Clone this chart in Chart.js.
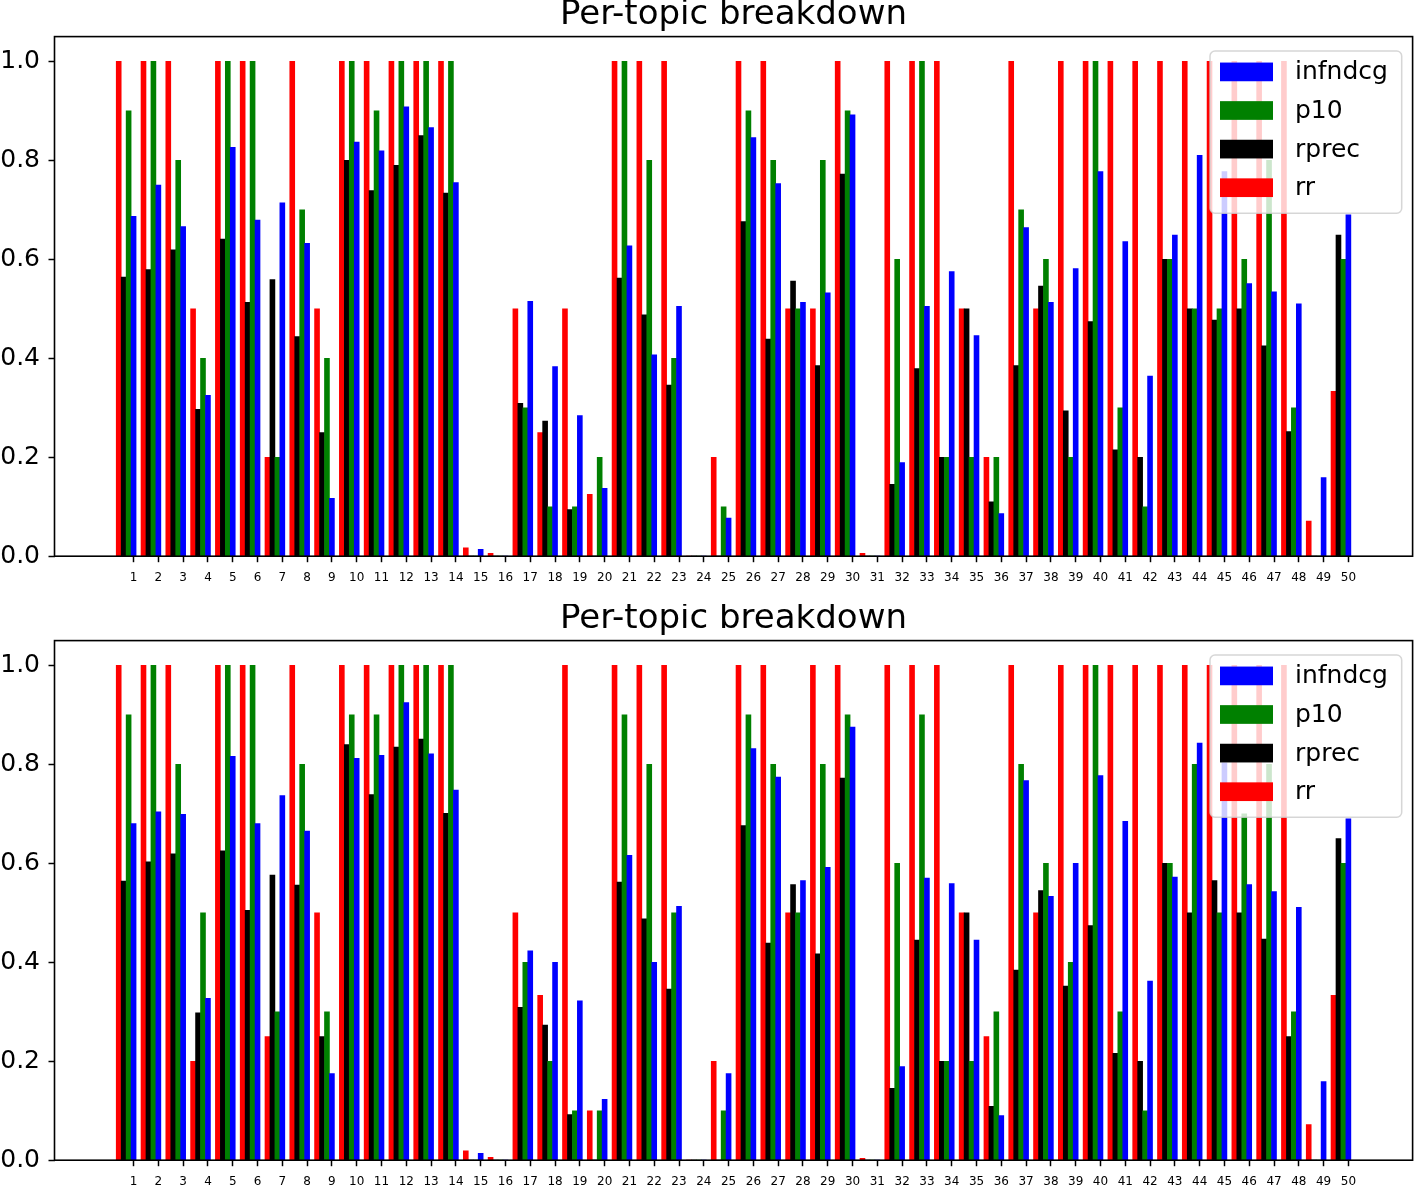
<!DOCTYPE html>
<html>
<head>
<meta charset="utf-8">
<script src="https://cdn.jsdelivr.net/npm/chart.js@4.4.1/dist/chart.umd.min.js"></script>
<style>
    html, body { margin: 0; padding: 0; background: #fff; overflow: hidden; }
    #wrap { position: relative; width: 1416px; height: 1186px; }
    canvas { position: absolute; left: 0; }
    #chart-top { top: 0; }
    #chart-bottom { top: 604px; }
</style>
</head>
<body>
<div id="wrap">
    <canvas id="chart-top" width="1416" height="604"></canvas>
    <canvas id="chart-bottom" width="1416" height="604"></canvas>
</div>
<script>
const topics = [1, 2, 3, 4, 5, 6, 7, 8, 9, 10, 11, 12, 13, 14, 15, 16, 17, 18, 19, 20,
    21, 22, 23, 24, 25, 26, 27, 28, 29, 30, 31, 32, 33, 34, 35, 36, 37, 38, 39, 40,
    41, 42, 43, 44, 45, 46, 47, 48, 49, 50];
const yTicks = [0, 0.2, 0.4, 0.6, 0.8, 1.0];
const yTickLabels = ["0.0", "0.2", "0.4", "0.6", "0.8", "1.0"];
const seriesNames = ["infndcg", "p10", "rprec", "rr"];

// upper panel
const infndcgTop = [0.687, 0.750, 0.666, 0.325, 0.826, 0.679, 0.714, 0.632, 0.117, 0.837,
    0.819, 0.908, 0.866, 0.755, 0.014, 0, 0.515, 0.383, 0.284, 0.137,
    0.627, 0.407, 0.505, 0, 0.077, 0.846, 0.753, 0.513, 0.532, 0.892,
    0, 0.189, 0.505, 0.575, 0.446, 0.086, 0.664, 0.513, 0.581, 0.777,
    0.636, 0.364, 0.649, 0.810, 0.777, 0.551, 0.534, 0.510, 0.159, 0.690];
const p10Top = [0.9, 1.0, 0.8, 0.4, 1.0, 1.0, 0.2, 0.7, 0.4, 1.0,
    0.9, 1.0, 1.0, 1.0, 0, 0, 0.3, 0.1, 0.1, 0.2,
    1.0, 0.8, 0.4, 0, 0.1, 0.9, 0.8, 0.5, 0.8, 0.9,
    0, 0.6, 1.0, 0.2, 0.2, 0.2, 0.7, 0.6, 0.2, 1.0,
    0.3, 0.1, 0.6, 0.5, 0.5, 0.6, 0.8, 0.3, 0, 0.6];
const rprecTop = [0.564, 0.579, 0.619, 0.297, 0.641, 0.513, 0.559, 0.444, 0.25, 0.80,
    0.739, 0.790, 0.850, 0.734, 0, 0, 0.309, 0.273, 0.094, 0,
    0.562, 0.488, 0.346, 0, 0, 0.676, 0.439, 0.556, 0.385, 0.772,
    0, 0.145, 0.379, 0.2, 0.5, 0.110, 0.385, 0.546, 0.294, 0.474,
    0.215, 0.2, 0.6, 0.5, 0.477, 0.5, 0.425, 0.252, 0, 0.649];
const rrTop = [1.0, 1.0, 1.0, 0.5, 1.0, 1.0, 0.2, 1.0, 0.5, 1.0,
    1.0, 1.0, 1.0, 1.0, 0.017, 0.006, 0.5, 0.25, 0.5, 0.125,
    1.0, 1.0, 1.0, 0, 0.2, 1.0, 1.0, 0.5, 0.5, 1.0,
    0.006, 1.0, 1.0, 1.0, 0.5, 0.2, 1.0, 0.5, 1.0, 1.0,
    1.0, 1.0, 1.0, 1.0, 1.0, 1.0, 1.0, 1.0, 0.071, 0.333];

// lower panel
const infndcgBottom = [0.680, 0.704, 0.699, 0.327, 0.816, 0.680, 0.737, 0.665, 0.175, 0.812,
    0.818, 0.925, 0.821, 0.748, 0.014, 0, 0.423, 0.40, 0.322, 0.123,
    0.616, 0.40, 0.513, 0, 0.175, 0.832, 0.774, 0.565, 0.592, 0.875,
    0, 0.189, 0.570, 0.559, 0.445, 0.090, 0.767, 0.533, 0.60, 0.777,
    0.685, 0.362, 0.572, 0.843, 0.803, 0.557, 0.543, 0.511, 0.159, 0.690];
const p10Bottom = [0.9, 1.0, 0.8, 0.5, 1.0, 1.0, 0.3, 0.8, 0.3, 0.9,
    0.9, 1.0, 1.0, 1.0, 0, 0, 0.4, 0.2, 0.1, 0.1,
    0.9, 0.8, 0.5, 0, 0.1, 0.9, 0.8, 0.5, 0.8, 0.9,
    0, 0.6, 0.9, 0.2, 0.2, 0.3, 0.8, 0.6, 0.4, 1.0,
    0.3, 0.1, 0.6, 0.8, 0.5, 0.7, 0.8, 0.3, 0, 0.6];
const rprecBottom = [0.564, 0.603, 0.619, 0.298, 0.625, 0.505, 0.576, 0.556, 0.25, 0.840,
    0.739, 0.835, 0.851, 0.701, 0, 0, 0.309, 0.273, 0.092, 0,
    0.562, 0.488, 0.346, 0, 0, 0.676, 0.439, 0.557, 0.417, 0.772,
    0, 0.145, 0.445, 0.2, 0.5, 0.109, 0.384, 0.545, 0.352, 0.474,
    0.216, 0.2, 0.6, 0.5, 0.565, 0.5, 0.447, 0.25, 0, 0.650];
const rrBottom = [1.0, 1.0, 1.0, 0.2, 1.0, 1.0, 0.25, 1.0, 0.5, 1.0,
    1.0, 1.0, 1.0, 1.0, 0.019, 0.006, 0.5, 0.333, 1.0, 0.1,
    1.0, 1.0, 1.0, 0, 0.2, 1.0, 1.0, 0.5, 1.0, 1.0,
    0.004, 1.0, 1.0, 1.0, 0.5, 0.25, 1.0, 0.5, 1.0, 1.0,
    1.0, 1.0, 1.0, 1.0, 1.0, 1.0, 1.0, 1.0, 0.072, 0.333];

const FONT = "'DejaVu Sans', sans-serif";
Chart.defaults.font.family = FONT;
Chart.defaults.color = "#000";

// bar position inside each topic group and colour, per series
const barOffsets = { infndcg: 0, p10: -0.2, rprec: -0.4, rr: -0.6 };
const barColors = { infndcg: "#0000ff", p10: "#008000", rprec: "#000000", rr: "#ff0000" };

// matplotlib-like frame and legend drawn over the bars
const frameLegend = {
    id: "frameLegend",
    afterDatasetsDraw(chart) {
        const { ctx, chartArea: a } = chart;
        ctx.save();
        ctx.strokeStyle = "#000";
        ctx.lineWidth = 1.6;
        ctx.strokeRect(a.left, a.top, a.right - a.left, a.bottom - a.top);

        const bx = a.right - 202.6;
        const by = a.top + 14.4;
        ctx.beginPath();
        ctx.roundRect(bx, by, 191.7, 162.3, 5);
        ctx.fillStyle = "rgba(255,255,255,0.8)";
        ctx.fill();
        ctx.strokeStyle = "rgba(204,204,204,0.8)";
        ctx.lineWidth = 1.5;
        ctx.stroke();

        ctx.font = "25px " + FONT;
        ctx.textBaseline = "middle";
        ctx.textAlign = "left";
        chart.data.datasets.forEach((ds, i) => {
            const cy = by + 20.9 + i * 38.6;
            ctx.fillStyle = ds.backgroundColor;
            ctx.fillRect(bx + 10, cy - 9.35, 53, 18.7);
            ctx.fillStyle = "#000";
            ctx.fillText(ds.label, bx + 85, cy + 1);
        });
        ctx.restore();
    },
};

function makeDatasets(valuesByName) {
    return seriesNames.map((name) => ({
        label: name,
        data: topics.map((t, i) => ({ x: t + barOffsets[name], y: valuesByName[name][i] })),
        backgroundColor: barColors[name],
        borderWidth: 0,
        grouped: false,
        barPercentage: 1,
        categoryPercentage: 1,
    }));
}

function makeConfig(valuesByName) {
    return {
        type: "bar",
        data: { datasets: makeDatasets(valuesByName) },
        options: {
            responsive: false,
            animation: false,
            layout: { padding: { left: 0, right: 3.4, top: 0, bottom: 0 } },
            scales: {
                x: {
                    type: "linear",
                    min: -2.19,
                    max: 52.59,
                    offset: false,
                    grid: {
                        display: true,
                        offset: false,
                        drawOnChartArea: false,
                        drawTicks: true,
                        tickLength: 6,
                        tickColor: "#000",
                        tickWidth: 1.5,
                    },
                    border: { display: false },
                    afterBuildTicks: (axis) => {
                        axis.ticks = topics.map((v) => ({ value: v }));
                    },
                    afterFit: (axis) => {
                        axis.height = 47.8;
                    },
                    ticks: {
                        autoSkip: false,
                        maxRotation: 0,
                        minRotation: 0,
                        padding: 8,
                        color: "#000",
                        font: { size: 12 },
                        callback: (v) => String(v),
                    },
                },
                y: {
                    type: "linear",
                    min: 0,
                    max: 1.05,
                    grid: {
                        display: true,
                        drawOnChartArea: false,
                        drawTicks: true,
                        tickLength: 6,
                        tickColor: "#000",
                        tickWidth: 1.5,
                    },
                    border: { display: false },
                    afterBuildTicks: (axis) => {
                        axis.ticks = yTicks.map((v) => ({ value: v }));
                    },
                    afterFit: (axis) => {
                        axis.width = 54.5;
                    },
                    ticks: {
                        padding: 8.5,
                        color: "#000",
                        font: { size: 25 },
                        callback: (v, i) => yTickLabels[i],
                    },
                },
            },
            plugins: {
                legend: { display: false },
                tooltip: { enabled: false },
                title: {
                    display: true,
                    text: "Per-topic breakdown",
                    fullSize: false,
                    color: "#000",
                    font: { size: 34, weight: "normal", lineHeight: 0.9 },
                    padding: { top: 0, bottom: 6 },
                },
            },
        },
        plugins: [frameLegend],
    };
}

window.addEventListener("DOMContentLoaded", () => {
    new Chart(document.getElementById("chart-top"), makeConfig({
        infndcg: infndcgTop, p10: p10Top, rprec: rprecTop, rr: rrTop,
    }));
    new Chart(document.getElementById("chart-bottom"), makeConfig({
        infndcg: infndcgBottom, p10: p10Bottom, rprec: rprecBottom, rr: rrBottom,
    }));
});
</script>
</body>
</html>
